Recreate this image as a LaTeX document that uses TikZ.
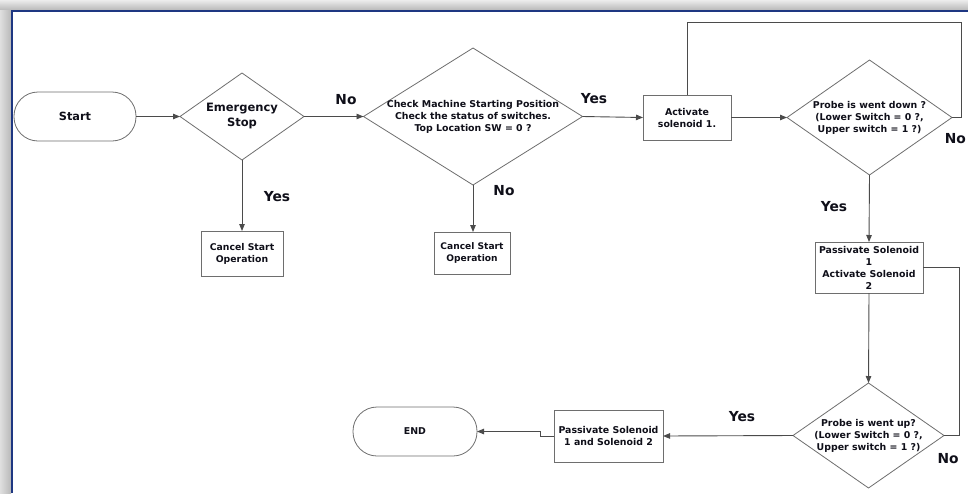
\documentclass[tikz,border=0pt]{standalone}
\usepackage{fontspec}
\setmainfont{DejaVu Sans}
\usetikzlibrary{shapes.geometric,arrows.meta}
\definecolor{framebl}{RGB}{30,55,130}
\definecolor{linegr}{RGB}{75,75,75}
\definecolor{bordgr}{RGB}{110,110,110}
\definecolor{txtc}{RGB}{15,15,25}
\begin{document}
\begin{tikzpicture}[x=1pt,y=-1pt,
  every node/.style={font=\bfseries, text=txtc},
  dia/.style={shape=diamond, draw=bordgr, line width=0.8pt, fill=white, inner sep=0pt, outer sep=0pt},
  dtext/.style={align=center, font=\fontsize{9.4}{12}\selectfont\bfseries, text=txtc},
  box/.style={rectangle, draw=bordgr, line width=0.8pt, fill=white, inner sep=0pt, outer sep=0pt, align=center, font=\fontsize{9.4}{12}\selectfont\bfseries},
  term/.style={rectangle, rounded corners=24pt, draw=bordgr, line width=0.8pt, fill=white, minimum width=122pt, minimum height=49pt, inner sep=0pt, outer sep=0pt},
  conn/.style={draw=linegr, line width=0.9pt},
  arr/.style={conn, -{Triangle[length=7pt,width=5.5pt]}},
  lbl/.style={font=\fontsize{13.8}{16}\selectfont\bfseries, text=txtc}
]
\useasboundingbox (0,0) rectangle (968,493);
% page frame
\shade[top color=gray!15, bottom color=gray!55] (0,0) rectangle (968,10);
\shade[left color=gray!25, right color=gray!55] (0,10) rectangle (11,493);
\draw[framebl, line width=2pt] (968,11) -- (12,11) -- (12,493);

% nodes
\node[term, font=\fontsize{11.3}{14}\selectfont\bfseries] (start) at (75,116.5) {Start};
\node[dia, minimum width=124pt, minimum height=87pt,
  label={[dtext, font=\fontsize{11.5}{15}\selectfont\bfseries]center:Emergency\\Stop}] (es) at (242,116.5) {};
\node[box, minimum width=82pt, minimum height=45pt, font=\fontsize{9.3}{12}\selectfont\bfseries] (can1) at (242,253.5) {Cancel Start\\Operation};
\node[dia, minimum width=219pt, minimum height=137pt,
  label={[dtext]center:Check Machine Starting Position\\Check the status of switches.\\Top Location SW = 0 ?}] (chk) at (473,116.5) {};
\node[box, minimum width=76pt, minimum height=42pt, font=\fontsize{9.1}{12}\selectfont\bfseries] (can2) at (472,253) {Cancel Start\\Operation};
\node[box, minimum width=88pt, minimum height=45pt] (act) at (687,117.5) {Activate\\solenoid 1.};
\node[dia, minimum width=165pt, minimum height=115pt,
  label={[dtext]center:Probe is went down ?\\(Lower Switch = 0 ?,\\Upper switch = 1 ?)}] (pd) at (869.5,117.5) {};
\node[box, minimum width=108pt, minimum height=51pt] (pas) at (869,267.5) {Passivate Solenoid\\1\\Activate Solenoid\\2};
\node[dia, minimum width=151pt, minimum height=105pt,
  label={[dtext]center:Probe is went up?\\(Lower Switch = 0 ?,\\Upper switch = 1 ?)}] (pu) at (868.5,435.5) {};
\node[box, minimum width=109pt, minimum height=52pt] (pas2) at (608.5,436) {Passivate Solenoid\\1 and Solenoid 2};
\node[term, minimum width=124pt, font=\fontsize{9.4}{12}\selectfont\bfseries] (end) at (415,431.5) {END};

% helper coordinates
\coordinate (lt) at (961,22);
\coordinate (rt) at (959,267.5);
\coordinate (kink) at (540,436);

% connectors
\draw[arr] (start.east) -- (es.west);
\draw[arr] (es.east) -- (chk.west);
\draw[arr] (es.south) -- (can1.north);
\draw[arr] (chk.east) -- (act.west);
\draw[arr] (chk.south) -- (chk.south |- can2.north);
\draw[arr] (act.east) -- (pd.west);
\draw[conn] (act.north) |- (lt) |- (pd.east);
\draw[arr] (pd.south) -- (pas.north);
\draw[conn] (pas.east) -- (rt) |- (pu.east);
\draw[arr] (pas.south) -- (pu.north);
\draw[arr] (pu.west) -- (pas2.east);
\draw[arr] (pas2.west) -- (kink) |- (end.east);

% labels
\node[lbl] (l1) at (346,100) {No};
\node[lbl] (l2) at (277,197) {Yes};
\node[lbl] (l3) at (504,191) {No};
\node[lbl] (l4) at (594,99) {Yes};
\node[lbl, anchor=east, inner sep=0pt] (l5) at (966,139) {No};
\node[lbl] (l6) at (834,207) {Yes};
\node[lbl] (l7) at (742,417) {Yes};
\node[lbl] (l8) at (948,459) {No};
\end{tikzpicture}
\end{document}
